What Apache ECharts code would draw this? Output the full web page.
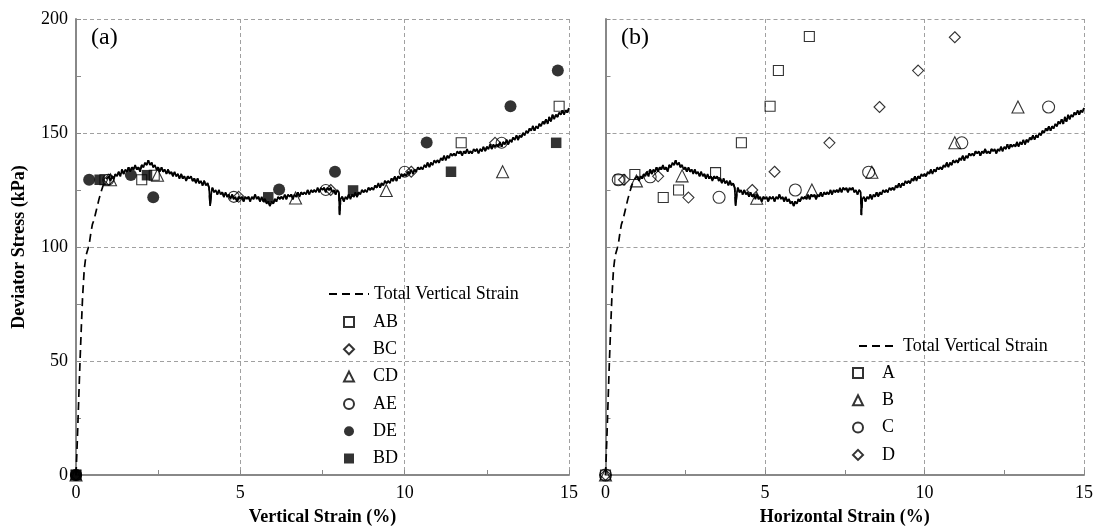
<!DOCTYPE html>
<html>
<head>
<meta charset="utf-8">
<script src="https://cdn.jsdelivr.net/npm/echarts@6/dist/echarts.min.js"></script>
<style>html,body{margin:0;padding:0;background:#fff}#c{width:1096px;height:531px}</style>
</head>
<body>
<div id="c"></div>
<script>
// ---- data ----
const xTicks = [0, 5, 10, 15];
const yTicks = [0, 50, 100, 150, 200];
const curve = [
[0,0],[0.04,15],[0.08,32],[0.12,49],[0.16,64],[0.2,78],[0.25,90],[0.3,96],[0.36,99],[0.4,101],[0.45,106],[0.5,110],[0.55,112],[0.6,115],[0.65,118],[0.7,121],[0.78,125],[0.85,128],[0.93,130],[1.0,131],
[1.05,129],[1.1,131],[1.15,130],[1.2,132],[1.25,131],[1.3,133],[1.35,131],[1.4,134],[1.45,132],[1.5,134],[1.55,133],[1.6,135],[1.65,133],[1.7,135],[1.75,134],[1.8,136],[1.85,134],[1.9,135],[1.95,133],[2.0,136],[2.05,135],[2.1,137],[2.15,136],[2.2,138],[2.25,136],[2.3,137],[2.35,135],[2.4,136],[2.45,134],[2.5,135],[2.55,133],[2.6,135],[2.65,133],[2.7,134],[2.75,132],[2.8,134],[2.85,132],[2.9,133],[2.95,131],[3.0,133],[3.05,131],[3.1,132],[3.15,130],[3.2,132],[3.25,130],[3.3,131],[3.35,129],[3.4,131],[3.45,130],[3.5,131],[3.55,129],[3.6,130],[3.65,128],[3.7,130],[3.75,128],[3.8,129],[3.85,127],[3.9,129],[3.95,127],[4.0,128],[4.05,126],[4.08,118],[4.12,124],[4.15,126],[4.2,124],[4.25,125],[4.3,123],[4.35,125],[4.4,123],[4.45,124],[4.5,122],[4.55,124],[4.6,122],[4.65,123],[4.7,121],[4.75,123],[4.8,121],[4.85,122],[4.9,120],[4.95,122],[5.0,121],[5.05,122],[5.1,120],[5.15,122],[5.2,121],[5.25,122],[5.3,120],[5.35,122],[5.4,121],[5.45,123],[5.5,121],[5.55,122],[5.6,120],[5.65,122],[5.7,120],[5.75,121],[5.8,119],[5.85,120],[5.9,118],[5.95,120],[6.0,119],[6.05,121],[6.1,120],[6.15,122],[6.2,121],[6.25,122],[6.3,121],[6.35,123],[6.4,121],[6.45,123],[6.5,122],[6.55,123],[6.6,121],[6.65,123],[6.7,122],[6.75,124],[6.8,122],[6.85,124],[6.9,123],[6.95,124],[7.0,123],[7.05,125],[7.1,123],[7.15,125],[7.2,124],[7.25,125],[7.3,124],[7.35,126],[7.4,124],[7.45,126],[7.5,125],[7.55,126],[7.6,124],[7.65,126],[7.7,125],[7.75,126],[7.8,124],[7.85,125],[7.9,123],[7.95,125],[8.0,124],[8.02,114],[8.05,121],[8.1,122],[8.15,120],[8.2,122],[8.25,121],[8.3,123],[8.35,121],[8.4,123],[8.45,122],[8.5,124],[8.55,122],[8.6,124],[8.65,123],[8.7,125],[8.75,124],[8.8,125],[8.85,124],[8.9,126],[8.95,125],[9.0,126],[9.05,125],[9.1,127],[9.15,126],[9.2,128],[9.25,126],[9.3,128],[9.35,127],[9.4,129],[9.45,128],[9.5,129],[9.55,128],[9.6,130],[9.65,129],[9.7,131],[9.75,129],[9.8,131],[9.85,130],[9.9,132],[9.95,131],[10.0,132],[10.05,131],[10.1,133],[10.15,132],[10.2,134],[10.25,132],[10.3,134],[10.35,133],[10.4,135],[10.45,134],[10.5,135],[10.55,134],[10.6,136],[10.65,135],[10.7,137],[10.75,135],[10.8,137],[10.85,136],[10.9,138],[10.95,137],[11.0,138],[11.05,137],[11.1,139],[11.15,138],[11.2,140],[11.25,138],[11.3,140],[11.35,139],[11.4,141],[11.45,140],[11.5,141],[11.55,140],[11.6,142],[11.65,141],[11.7,142],[11.75,140],[11.8,142],[11.85,141],[11.9,143],[11.95,141],[12.0,142],[12.05,141],[12.1,143],[12.15,142],[12.2,143],[12.25,141],[12.3,143],[12.35,142],[12.4,144],[12.45,142],[12.5,144],[12.55,143],[12.6,145],[12.65,143],[12.7,145],[12.75,144],[12.8,145],[12.85,144],[12.9,146],[12.95,144],[13.0,146],[13.05,145],[13.1,147],[13.15,145],[13.2,147],[13.25,146],[13.3,148],[13.35,147],[13.4,149],[13.45,147],[13.5,149],[13.55,148],[13.6,150],[13.65,149],[13.7,151],[13.75,150],[13.8,152],[13.85,151],[13.9,153],[13.95,151],[14.0,153],[14.05,152],[14.1,154],[14.15,153],[14.2,155],[14.25,154],[14.3,156],[14.35,154],[14.4,157],[14.45,155],[14.5,158],[14.55,156],[14.6,158],[14.65,157],[14.7,159],[14.75,158],[14.8,160],[14.85,158],[14.9,160],[14.95,159],[15.0,161]
];
// panel (a): vertical strain (%) vs deviator stress (kPa)
const AB = [[0,0],[0.88,129.5],[2.0,129.5],[2.38,131.5],[11.72,145.7],[14.7,161.7]];
const BC = [[0,0],[1.0,129.5],[4.95,122],[7.75,125],[10.2,133],[12.75,145.7]];
const CD = [[0,0],[1.05,129.5],[2.48,131.5],[6.68,121.5],[9.44,124.8],[12.98,133]];
const AE = [[0,0],[0.98,129.5],[4.8,122],[7.6,125],[10.0,133],[12.95,145.7]];
const DE = [[0,0],[0.4,129.5],[1.67,131.6],[2.35,121.8],[6.18,125.2],[7.88,133],[10.67,145.8],[13.22,161.7],[14.66,177.4]];
const BD = [[0,0],[0.72,129.5],[2.16,131.5],[5.85,121.8],[8.43,124.8],[11.41,133],[14.61,145.7]];
// panel (b): horizontal strain (%) vs deviator stress (kPa)
const A = [[0,0],[0.45,129.5],[0.92,131.8],[1.81,121.7],[2.29,125],[3.45,132.6],[4.26,145.7],[5.16,161.7],[5.42,177.4],[6.39,192.3]];
const B = [[0,0],[0.97,129],[2.4,131.2],[4.74,121.4],[6.47,125],[8.35,132.8],[10.95,145.7],[12.93,161.4]];
const C = [[0,0],[0.4,129.5],[1.4,130.8],[3.56,121.8],[5.95,125],[8.25,132.8],[11.17,145.7],[13.89,161.4]];
const D = [[0,0],[0.58,129.5],[1.65,131],[2.6,121.7],[4.6,125],[5.3,133],[7.02,145.7],[8.59,161.4],[9.8,177.4],[10.95,192]];

// ---- chart ----
const FONT = '"Liberation Serif","Times New Roman",serif';
const chart = echarts.init(document.getElementById('c'), null, {renderer: 'canvas'});

function xAxis(idx, name) {
  return {
    type: 'value', gridIndex: idx, min: xTicks[0], max: xTicks[xTicks.length - 1], interval: xTicks[1] - xTicks[0],
    name: name, nameLocation: 'middle', nameGap: 33,
    nameTextStyle: {fontFamily: FONT, fontSize: 18, fontWeight: 'bold', color: '#000'},
    axisLine: {show: true, onZero: false, lineStyle: {color: '#888', width: 2}},
    axisTick: {show: true, inside: true, length: 5, lineStyle: {color: '#888', width: 1}},
    minorTick: {show: true, splitNumber: 2, length: 5, lineStyle: {color: '#888', width: 1}},
    axisLabel: {fontFamily: FONT, fontSize: 18, color: '#000', margin: 9},
    splitLine: {show: true, lineStyle: {color: '#a0a0a0', width: 1, type: [4, 3]}}
  };
}
function yAxis(idx, showLabel) {
  return {
    type: 'value', gridIndex: idx, min: yTicks[0], max: yTicks[yTicks.length - 1], interval: yTicks[1] - yTicks[0],
    name: showLabel ? 'Deviator Stress (kPa)' : '', nameLocation: 'middle', nameGap: 48, nameRotate: 90,
    nameTextStyle: {fontFamily: FONT, fontSize: 18, fontWeight: 'bold', color: '#000'},
    axisLine: {show: true, onZero: false, lineStyle: {color: '#888', width: 2}},
    axisTick: {show: true, inside: true, length: 5, lineStyle: {color: '#888', width: 1}},
    minorTick: {show: true, splitNumber: 2, length: 5, lineStyle: {color: '#888', width: 1}},
    axisLabel: {show: showLabel, fontFamily: FONT, fontSize: 18, color: '#000', margin: 8},
    splitLine: {show: true, lineStyle: {color: '#a0a0a0', width: 1, type: [4, 3]}}
  };
}
function openMarker(name, data, symbol, idx, size) {
  return {
    name: name, type: 'scatter', xAxisIndex: idx, yAxisIndex: idx, data: data, symbol: symbol,
    symbolSize: size, symbolKeepAspect: true, clip: false, z: 5,
    itemStyle: {color: 'rgba(255,255,255,0)', borderColor: '#000', borderWidth: 1.1}
  };
}
function filledMarker(name, data, symbol, idx, size) {
  return {
    name: name, type: 'scatter', xAxisIndex: idx, yAxisIndex: idx, data: data, symbol: symbol,
    symbolSize: size, symbolKeepAspect: true, clip: false, z: 5,
    itemStyle: {color: '#000', borderWidth: 0}
  };
}
function curveSeries(idx) {
  return [{
    name: 'Total Vertical Strain', type: 'line', xAxisIndex: idx, yAxisIndex: idx, data: curve,
    symbol: 'none', showSymbol: false, clip: false, z: 3,
    itemStyle: {color: '#000'},
    lineStyle: {color: '#000', width: 1.7, type: [8, 5]}
  }, {
    name: '_curve' + idx, type: 'line', xAxisIndex: idx, yAxisIndex: idx,
    data: curve.filter(p => p[0] >= 1.0), symbol: 'none', showSymbol: false, clip: false, z: 3,
    itemStyle: {color: '#000'},
    lineStyle: {color: '#000', width: 1.7}, legendHoverLink: false, silent: true
  }];
}
const legendText = {fontFamily: FONT, fontSize: 18, color: '#000', lineHeight: 18};
const symText = {fontFamily: FONT, fontSize: 18, color: '#000', lineHeight: 18, padding: [0, 0, 0, 14]};
const lineItem = {name: 'Total Vertical Strain', itemStyle: {color: 'rgba(0,0,0,0)', borderWidth: 0, opacity: 0}};

chart.setOption({
  animation: false,
  backgroundColor: '#fff',
  grid: [
    {left: 76, top: 19, width: 493, height: 459},
    {left: 605.5, top: 19, width: 479.5, height: 459}
  ],
  xAxis: [xAxis(0, 'Vertical Strain (%)'), xAxis(1, 'Horizontal Strain (%)')],
  yAxis: [yAxis(0, true), yAxis(1, false)],
  legend: [
    {orient: 'vertical', left: 328, top: 285, padding: 0, itemWidth: 40, itemHeight: 10,
     selectedMode: false, data: [lineItem], textStyle: legendText},
    {orient: 'vertical', left: 343, top: 313, padding: 0, itemWidth: 10, itemHeight: 10, itemGap: 9.3,
     selectedMode: false, data: ['AB', 'BC', 'CD', 'AE', 'DE', 'BD'], textStyle: symText},
    {orient: 'vertical', left: 858, top: 337, padding: 0, itemWidth: 39, itemHeight: 10,
     selectedMode: false, data: [lineItem], textStyle: legendText},
    {orient: 'vertical', left: 852, top: 364, padding: 0, itemWidth: 10, itemHeight: 10, itemGap: 9.3,
     selectedMode: false, data: ['A', 'B', 'C', 'D'], textStyle: symText}
  ],
  graphic: [
    {type: 'text', left: 91, top: 26, style: {text: '(a)', font: '24px ' + FONT, fill: '#000'}},
    {type: 'text', left: 621, top: 26, style: {text: '(b)', font: '24px ' + FONT, fill: '#000'}}
  ],
  series: [
    ...curveSeries(0),
    openMarker('AB', AB, 'rect', 0, 10),
    openMarker('BC', BC, 'diamond', 0, 11),
    openMarker('CD', CD, 'triangle', 0, 12),
    openMarker('AE', AE, 'circle', 0, 11),
    filledMarker('DE', DE, 'circle', 0, 12),
    filledMarker('BD', BD, 'rect', 0, 10.5),
    ...curveSeries(1),
    openMarker('A', A, 'rect', 1, 10),
    openMarker('B', B, 'triangle', 1, 12),
    openMarker('C', C, 'circle', 1, 12),
    openMarker('D', D, 'diamond', 1, 11)
  ]
});
</script>
</body>
</html>
